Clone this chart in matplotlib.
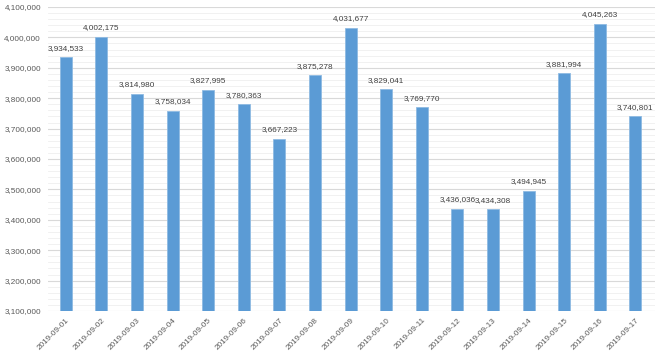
import matplotlib.pyplot as plt
from matplotlib.ticker import FuncFormatter, MultipleLocator

dates = ["2019-09-01", "2019-09-02", "2019-09-03", "2019-09-04", "2019-09-05",
         "2019-09-06", "2019-09-07", "2019-09-08", "2019-09-09", "2019-09-10",
         "2019-09-11", "2019-09-12", "2019-09-13", "2019-09-14", "2019-09-15",
         "2019-09-16", "2019-09-17"]
values = [3934533, 4002175, 3814980, 3758034, 3827995, 3780363, 3667223,
          3875278, 4031677, 3829041, 3769770, 3436036, 3434308, 3494945,
          3881994, 4045263, 3740801]

plt.rcParams['font.family'] = ['Liberation Sans', 'DejaVu Sans']
text_color = '#595959'

fig = plt.figure(figsize=(6.6, 3.57), dpi=100)
ax = fig.add_axes([48 / 660, 46 / 357, 607 / 660, 304 / 357])

x = list(range(len(dates)))
ax.bar(x, values, width=0.34, color='#5b9bd5', edgecolor='#8fbbe3', linewidth=0.6, zorder=3)

for xi, v in zip(x, values):
    ax.annotate(f"{v:,}", (xi, v), xytext=(0, 4), textcoords="offset points",
                ha='center', va='bottom', fontsize=5.9, color='#404040')

ax.set_xlim(-0.5, len(dates) - 0.5 + 0.05)
ax.set_ylim(3100000, 4100000)
ax.yaxis.set_major_locator(MultipleLocator(100000))
ax.yaxis.set_minor_locator(MultipleLocator(20000))
ax.yaxis.set_major_formatter(FuncFormatter(lambda v, p: f"{int(v):,}"))
ax.grid(axis='y', which='major', color='#d9d9d9', linewidth=0.8, zorder=0)
ax.grid(axis='y', which='minor', color='#efefef', linewidth=0.6, zorder=0)

ax.set_xticks(x)
ax.set_xticklabels(dates, rotation=45, ha='right', rotation_mode='anchor')
ax.tick_params(axis='x', length=0, pad=4, labelsize=5.9, labelcolor=text_color)
ax.tick_params(axis='y', which='both', length=0, pad=5, labelsize=5.9, labelcolor=text_color)

for s in ax.spines.values():
    s.set_visible(False)

fig.savefig("out.png", dpi=100)
